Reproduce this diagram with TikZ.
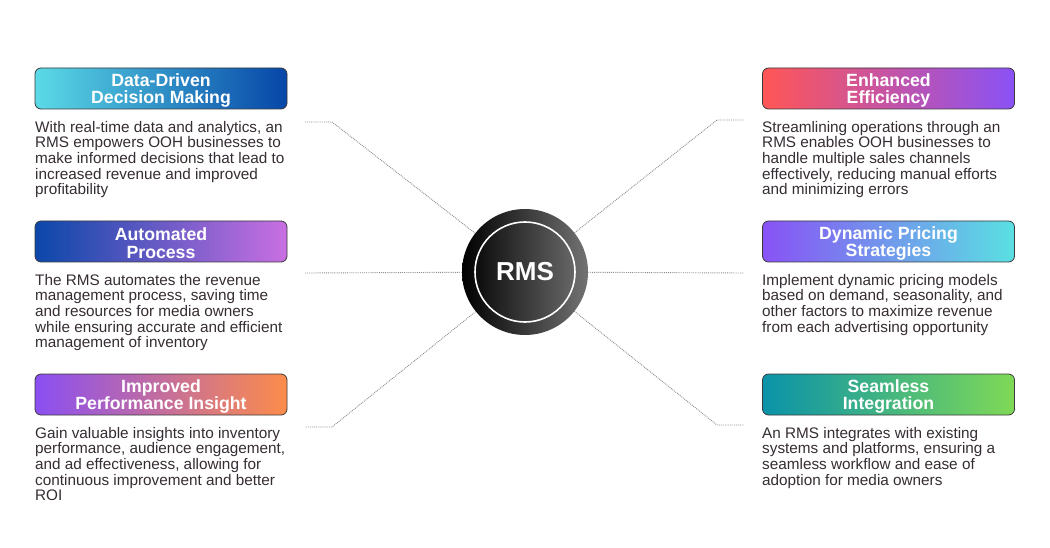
\documentclass[tikz,border=0pt]{standalone}
\usepackage{fontspec}
\setmainfont{Liberation Sans}
\definecolor{txt}{HTML}{352D33}
\definecolor{edge}{HTML}{3A3A3A}
\definecolor{conncol}{HTML}{8C8C8C}
\definecolor{cA}{HTML}{5BDAE6}\definecolor{cB}{HTML}{0646A8}
\definecolor{cC}{HTML}{0B47A9}\definecolor{cD}{HTML}{C96FE2}
\definecolor{cE}{HTML}{8A4FF2}\definecolor{cF}{HTML}{FC8C4A}
\definecolor{cG}{HTML}{FF5656}\definecolor{cH}{HTML}{8A52F5}
\definecolor{cI}{HTML}{8852F5}\definecolor{cJ}{HTML}{5AE0E2}
\definecolor{cK}{HTML}{0A92A9}\definecolor{cL}{HTML}{7FD957}
\begin{document}
\begin{tikzpicture}[x=1pt,y=-1pt,
  titlebox/.style={draw=edge, line width=0.8pt, rounded corners=6pt,
    minimum width=252pt, minimum height=41pt, inner sep=0pt},
  titletext/.style={inner sep=0pt, align=center, yshift=-1.8pt,
    text=white, font=\bfseries\fontsize{17.7}{17.5}\selectfont},
  bodytext/.style={anchor=north west, inner sep=0pt, align=left, text=txt,
    font=\fontsize{15.3}{15.6}\selectfont},
  conn/.style={draw=conncol, line width=0.9pt, densely dotted}]
\fill[white] (0,0) rectangle (1050,548);
\useasboundingbox (0,0) rectangle (1050,548);

% centre
\node[circle, minimum size=126pt, inner sep=0pt, left color=black, right color=black!55] (rms) at (525,272) {};
\draw[white, line width=1.6pt] (rms.center) circle[radius=50];
\node[text=white, font=\bfseries\fontsize{26}{26}\selectfont] (rmslabel) at (rms.center) {RMS};

% coordinates for connectors
\coordinate (l1a) at (332,122); \coordinate (l1b) at (305,122);
\coordinate (l2b) at (305,273);
\coordinate (l3a) at (332,427); \coordinate (l3b) at (305,427);
\coordinate (r1a) at (717,120); \coordinate (r1b) at (744,120);
\coordinate (r2b) at (744,273);
\coordinate (r3a) at (717,425); \coordinate (r3b) at (744,425);
\draw[conn] (rms) -- (l1a) -- (l1b);
\draw[conn] (rms) -- (l2b);
\draw[conn] (rms) -- (l3a) -- (l3b);
\draw[conn] (rms) -- (r1a) -- (r1b);
\draw[conn] (rms) -- (r2b);
\draw[conn] (rms) -- (r3a) -- (r3b);

% left
\node[titlebox, left color=cA, right color=cB] (t1) at (161,88.5) {};
\node[titletext] (t1l) at (t1.center) {Data-Driven\\Decision Making};
\node[bodytext] (b1) at (35,121) {With real-time data and analytics, an\\RMS empowers OOH businesses to\\make informed decisions that lead to\\increased revenue and improved\\profitability};
\node[titlebox, left color=cC, right color=cD] (t2) at (161,241.5) {};
\node[titletext] (t2l) at (t2.center) {Automated\\Process};
\node[bodytext] (b2) at (35,274) {The RMS automates the revenue\\management process, saving time\\and resources for media owners\\while ensuring accurate and efficient\\management of inventory};
\node[titlebox, left color=cE, right color=cF] (t3) at (161,394.5) {};
\node[titletext] (t3l) at (t3.center) {Improved\\Performance Insight};
\node[bodytext] (b3) at (35,427) {Gain valuable insights into inventory\\performance, audience engagement,\\and ad effectiveness, allowing for\\continuous improvement and better\\ROI};

% right
\node[titlebox, left color=cG, right color=cH] (t4) at (888.5,88.5) {};
\node[titletext] (t4l) at (t4.center) {Enhanced\\Efficiency};
\node[bodytext] (b4) at (762,121) {Streamlining operations through an\\RMS enables OOH businesses to\\handle multiple sales channels\\effectively, reducing manual efforts\\and minimizing errors};
\node[titlebox, left color=cI, right color=cJ] (t5) at (888.5,241.5) {};
\node[titletext] (t5l) at (t5.center) {Dynamic Pricing\\Strategies};
\node[bodytext] (b5) at (762,274) {Implement dynamic pricing models\\based on demand, seasonality, and\\other factors to maximize revenue\\from each advertising opportunity};
\node[titlebox, left color=cK, right color=cL] (t6) at (888.5,394.5) {};
\node[titletext] (t6l) at (t6.center) {Seamless\\Integration};
\node[bodytext] (b6) at (762,427) {An RMS integrates with existing\\systems and platforms, ensuring a\\seamless workflow and ease of\\adoption for media owners};
\end{tikzpicture}
\end{document}
